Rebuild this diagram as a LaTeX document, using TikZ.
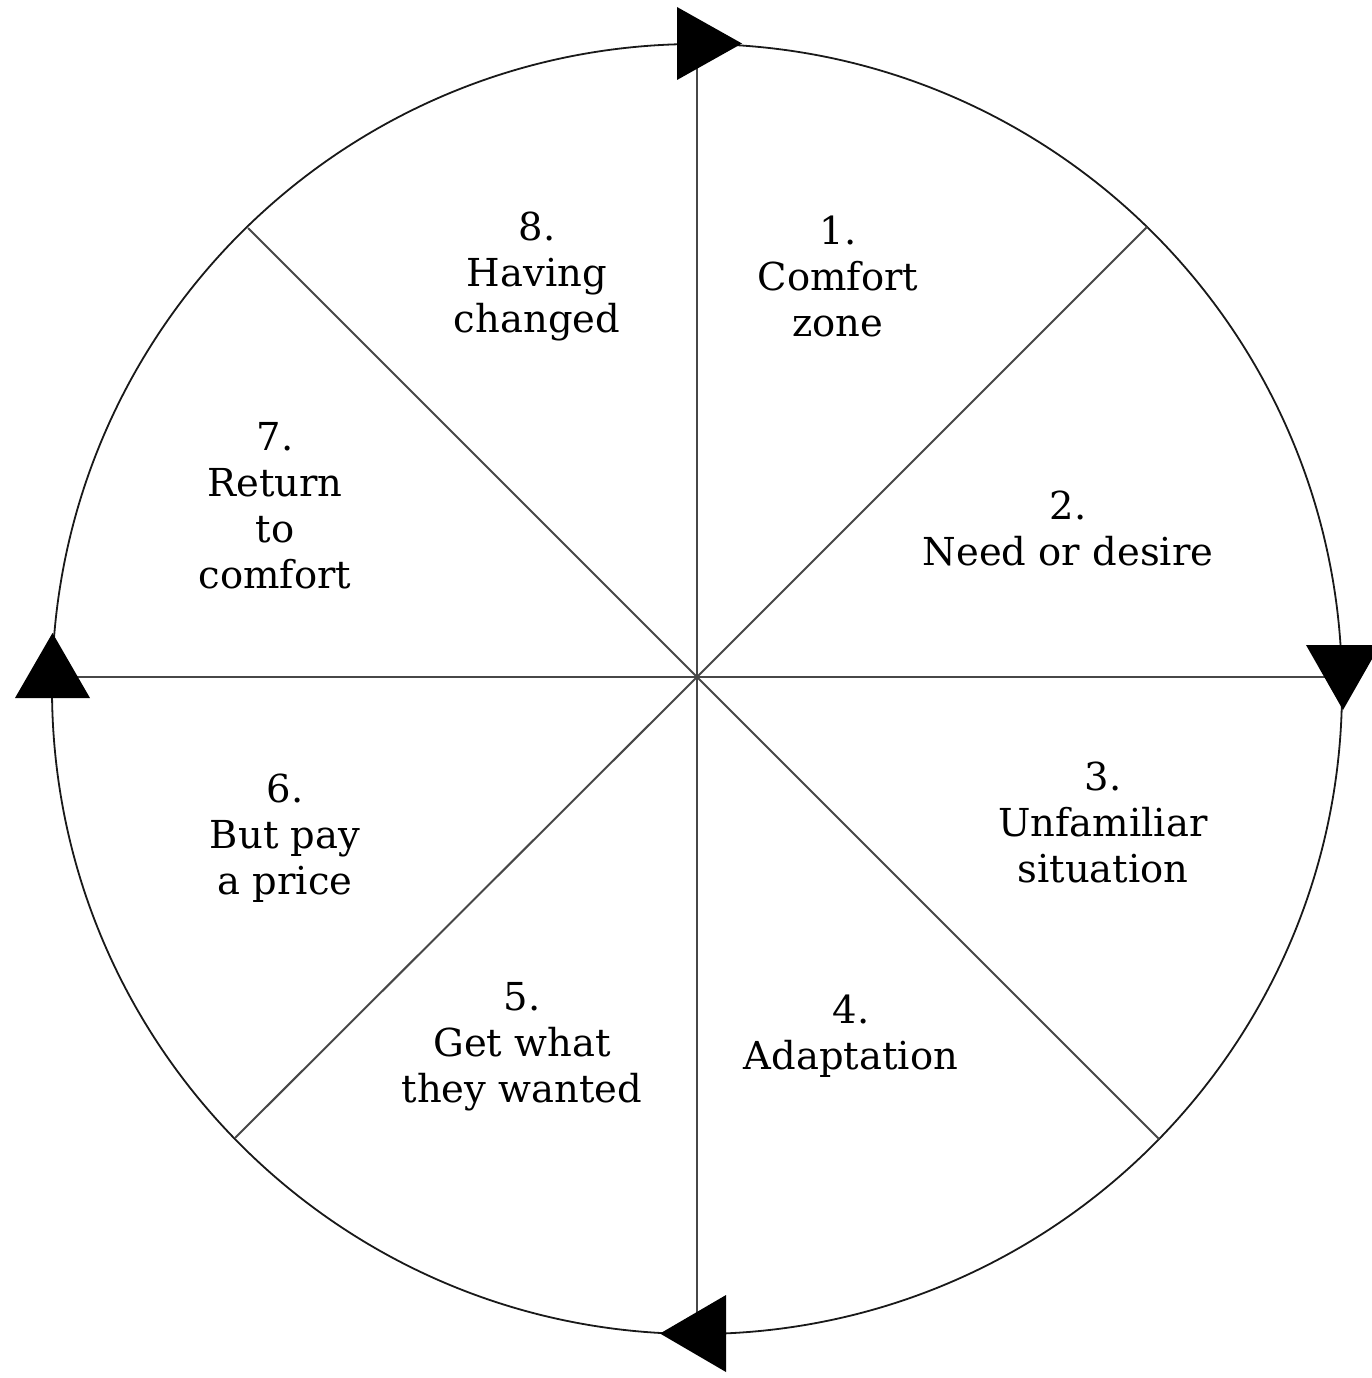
\documentclass[tikz,border=0pt]{standalone}
\usepackage{fontspec}
\setmainfont{DejaVu Serif}
\tikzset{
  spoke/.style={draw=black!72, line width=2pt},
  rim/.style={draw=black!90, line width=1.8pt},
  marker/.style={fill=black, draw=none},
  stage/.style={align=center, inner sep=0pt, font=\fontsize{38.5}{46}\selectfont, text=black}
}
\begin{document}
\begin{tikzpicture}[x=1pt,y=-1pt]
\useasboundingbox (0,0) rectangle (1372,1378);
\fill[white] (0,0) rectangle (1372,1378);
% circle
\coordinate (cc) at (697,689);
\draw[rim] (cc) circle[radius=645pt];
% spokes
\coordinate (o) at (697,677);
\coordinate (eN) at (697,45);
\coordinate (eS) at (697,1333);
\coordinate (eW) at (52,677);
\coordinate (eE) at (1342,677);
\coordinate (eNE) at (1147,227);
\coordinate (eNW) at (248,228);
\coordinate (eSW) at (235,1138);
\coordinate (eSE) at (1159,1139);
\foreach \e in {eN,eS,eW,eE,eNE,eNW,eSW,eSE}{\draw[spoke] (o) -- (\e);}
% direction markers
\fill[marker] (677,7) -- (677,80) -- (742,43.5) -- cycle;
\fill[marker] (1306,645) -- (1380,645) -- (1343,710) -- cycle;
\fill[marker] (726,1295) -- (726,1372) -- (660,1333.5) -- cycle;
\fill[marker] (15,698) -- (90,698) -- (52.5,633) -- cycle;
% labels
\node[stage] (t1) at (838,276) {1.\\Comfort\\zone};
\node[stage] (t2) at (1068,528) {2.\\Need or desire};
\node[stage] (t3) at (1103,822) {3.\\Unfamiliar\\situation};
\node[stage] (t4) at (851,1036) {4.\\Adaptation};
\node[stage] (t5) at (522,1047) {5.\\Get what\\they wanted};
\node[stage] (t6) at (285,838) {6.\\But pay\\a price};
\node[stage] (t7) at (275,506) {7.\\Return\\to\\comfort};
\node[stage] (t8) at (537,276) {8.\\Having\\changed};
\end{tikzpicture}
\end{document}
